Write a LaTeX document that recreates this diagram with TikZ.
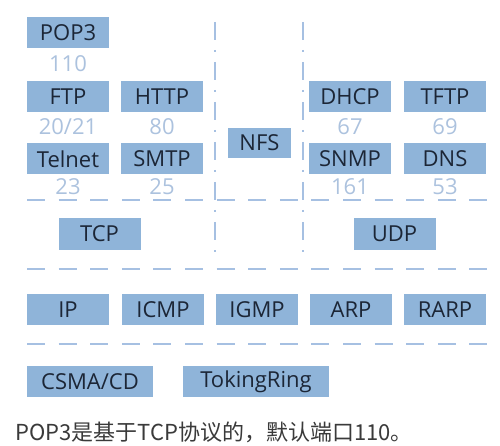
\documentclass[tikz,border=0pt]{standalone}
\usepackage{fontspec}
\setmainfont{Open Sans}
\newfontfamily\cjk{Noto Sans CJK SC}
\usetikzlibrary{positioning}
\definecolor{bleuboite}{RGB}{143,180,217}
\definecolor{texteboite}{RGB}{28,38,54}
\definecolor{texteport}{RGB}{172,194,222}
\definecolor{ligne}{RGB}{166,192,226}
\definecolor{textebas}{RGB}{58,58,58}

\begin{document}
\begin{tikzpicture}[x=1pt, y=-1pt,
    boite/.style={fill=bleuboite, text=texteboite, minimum width=82pt, minimum height=31pt, inner sep=0pt, font=\fontsize{22}{22}\selectfont},
    port/.style={text=texteport, inner sep=0pt, font=\fontsize{22}{22}\selectfont},
    couche/.style={draw=ligne, line width=2.5pt, dash pattern=on 18pt off 13.6pt},
    separation/.style={draw=ligne, line width=2pt, dash pattern=on 18pt off 10pt on 2pt off 10pt}]
    \useasboundingbox (0,0) rectangle (500,446);

    % Lignes de séparation des couches
    \coordinate (c1g) at (27,200);  \coordinate (c1d) at (500,200);
    \coordinate (c2g) at (27,269);  \coordinate (c2d) at (500,269);
    \coordinate (c3g) at (27,344);  \coordinate (c3d) at (500,344);
    \coordinate (s1h) at (215,22);  \coordinate (s1b) at (215,260);
    \coordinate (s2h) at (303,22);  \coordinate (s2b) at (303,260);
    \draw[couche] (c1g) -- (c1d);
    \draw[couche] (c2g) -- (c2d);
    \draw[couche] (c3g) -- (c3d);
    \draw[separation] (s1h) -- (s1b);
    \draw[separation] (s2h) -- (s2b);

    % Couche application
    \foreach \pos/\nom/\texte in {
        {68,33}/pop3/POP3, {68,97}/ftp/FTP, {162,97}/http/HTTP,
        {68,159}/telnet/Telnet, {162,159}/smtp/SMTP,
        {350,97}/dhcp/DHCP, {445,97}/tftp/TFTP,
        {350,159}/snmp/SNMP, {445,159}/dns/DNS
    } {
        \node[boite] (\nom) at (\pos) {\texte};
    }
    \node[boite, minimum width=63pt, minimum height=30pt] (nfs) at (259.5,143) {NFS};

    % Numéros de port
    \foreach \pos/\nom/\texte in {
        {68,64}/p110/110, {68,127}/p2021/{20/21}, {162,127}/p80/80,
        {68,187}/p23/23, {162,187}/p25/25,
        {350,127}/p67/67, {445,127}/p69/69,
        {350,187}/p161/161, {445,187}/p53/53
    } {
        \node[port] (\nom) at (\pos) {\texte};
    }

    % Couche transport
    \node[boite] (tcp) at (99.5,234) {TCP};
    \node[boite] (udp) at (394.5,234) {UDP};

    % Couche réseau
    \foreach \x/\nom/\texte in {
        68/ip/IP, 163/icmp/ICMP, 257/igmp/IGMP, 351/arp/ARP, 445/rarp/RARP
    } {
        \node[boite] (\nom) at (\x,309.5) {\texte};
    }

    % Couche liaison
    \node[boite, minimum width=126pt] (csma) at (90,381.5) {CSMA/CD};
    \node[boite, minimum width=146pt] (token) at (256,381.5) {TokingRing};

    % Légende
    \node[anchor=west, inner sep=0pt, text=textebas, font=\cjk\fontsize{22}{22}\selectfont] (legende) at (15,432) {POP3是基于TCP协议的，默认端口110。};
\end{tikzpicture}
\end{document}
